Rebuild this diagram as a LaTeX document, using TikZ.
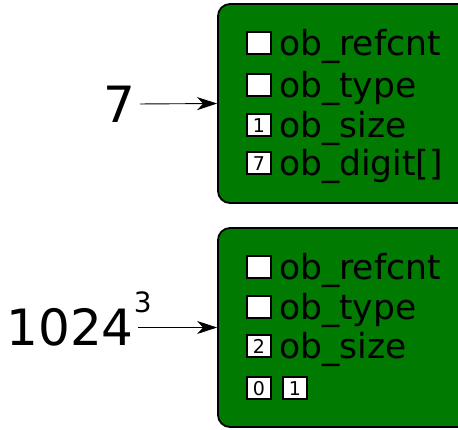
\documentclass[tikz,border=0pt]{standalone}
\usepackage{fontspec}
\setmainfont{DejaVu Sans}
\usetikzlibrary{arrows.meta}
\definecolor{boxgreen}{RGB}{0,122,0}
\tikzset{
  objbox/.style={draw=black, line width=1.8pt, fill=boxgreen, rounded corners=12pt,
    minimum width=252pt, minimum height=199pt, inner sep=0pt},
  field/.style={anchor=base west, inner sep=0pt, font=\fontsize{34.5}{40}\selectfont},
  sq/.style={draw=black, line width=1.6pt, fill=white, anchor=south west,
    minimum width=24pt, minimum height=22pt, inner sep=0pt, font=\fontsize{19}{20}\selectfont},
  numlabel/.style={anchor=east, inner sep=0pt, font=\fontsize{50}{60}\selectfont},
  ptr/.style={-{Stealth[length=20pt,width=13pt,inset=6pt]}, line width=0.9pt, shorten <=4pt}
}
\begin{document}
\begin{tikzpicture}[x=1pt,y=-1pt]
\useasboundingbox (0,0) rectangle (458,429);
% boxes
\node[objbox] (box1) at (344,103.5) {};
\node[objbox] (box2) at (344,327.5) {};
% box 1 fields
\node[sq] (b1s1) at (246,55) {};
\node[field] (b1f1) at (279,55) {ob\_refcnt};
\node[sq] (b1s2) at (246,97) {};
\node[field] (b1f2) at (279,97) {ob\_type};
\node[sq] (b1s3) at (246,137) {1};
\node[field] (b1f3) at (279,137) {ob\_size};
\node[sq] (b1s4) at (246,175) {7};
\node[field] (b1f4) at (279,175) {ob\_digit[]};
% box 2 fields
\node[sq] (b2s1) at (246,279) {};
\node[field] (b2f1) at (279,279) {ob\_refcnt};
\node[sq] (b2s2) at (246,319) {};
\node[field] (b2f2) at (279,319) {ob\_type};
\node[sq] (b2s3) at (246,358) {2};
\node[field] (b2f3) at (279,358) {ob\_size};
\node[sq] (b2s4) at (246,400) {0};
\node[sq] (b2s5) at (282,400) {1};
% left labels
\node[numlabel] (seven) at (136,104) {7};
\node[numlabel] (kilo) at (134,327.5) {1024\rlap{\smash{\raisebox{33pt}{\fontsize{28}{30}\selectfont 3}}}};
% pointers
\draw[ptr] (seven.east) -- (box1.west);
\draw[ptr] (kilo.east) -- (box2.west);
\end{tikzpicture}
\end{document}
